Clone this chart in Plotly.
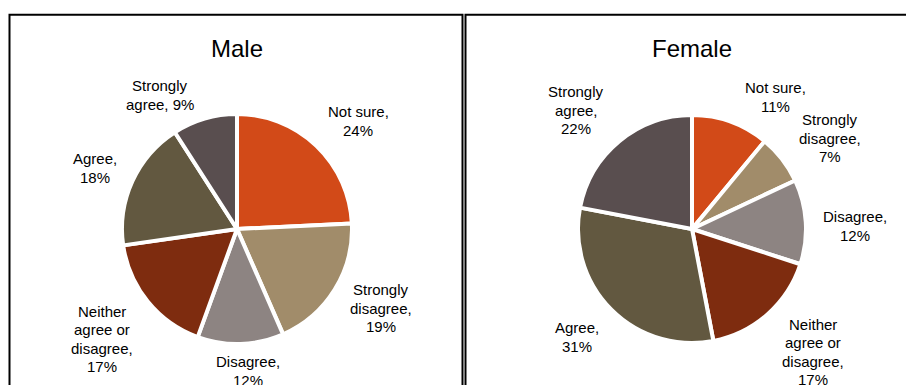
import plotly.graph_objects as go

W, H = 906, 385

# Response categories in clockwise order from 12 o'clock
categories = ["Not sure", "Strongly disagree", "Disagree",
              "Neither agree or disagree", "Agree", "Strongly agree"]
male_values = [24, 19, 12, 17, 18, 9]
female_values = [11, 7, 12, 17, 31, 22]

colors = ["#D24A18", "#A18C6A", "#8D8482", "#7E2C0F", "#625840", "#594E4F"]

# Label wording (line breaks differ per panel); {v} is filled with the value
male_label_fmt = ["Not sure,<br>{v}%", "Strongly<br>disagree,<br>{v}%", "Disagree,<br>{v}%",
                  "Neither<br>agree or<br>disagree,<br>{v}%", "Agree,<br>{v}%",
                  "Strongly<br>agree, {v}%"]
female_label_fmt = ["Not sure,<br>{v}%", "Strongly<br>disagree,<br>{v}%", "Disagree,<br>{v}%",
                    "Neither<br>agree or<br>disagree,<br>{v}%", "Agree,<br>{v}%",
                    "Strongly<br>agree,<br>{v}%"]

# Label anchor points (pixels) around each pie
male_label_px = [(358, 121), (381, 308), (248, 371), (102, 339), (95, 168), (160, 95)]
female_label_px = [(775, 97), (830, 138), (855, 226), (813, 352), (577, 337), (576, 110)]

FONT = "Liberation Sans, Arial, sans-serif"
BORDER = 4          # white separator width between slices
LINE_GAP = 18.3     # pixel spacing between label lines


def px_x(x):
    return x / W


def px_y(y):
    return 1 - y / H


def pie_domain(cx, cy, r):
    r = r + BORDER / 2
    return dict(x=[px_x(cx - r), px_x(cx + r)], y=[px_y(cy + r), px_y(cy - r)])


fig = go.Figure()

panels = [
    ("Male", male_values, male_label_fmt, male_label_px, (237, 229, 113)),
    ("Female", female_values, female_label_fmt, female_label_px, (692, 229, 112)),
]

annotations = []
for title, values, fmts, label_px, (cx, cy, r) in panels:
    fig.add_trace(go.Pie(
        labels=categories,
        values=values,
        sort=False,
        direction="clockwise",
        rotation=0,
        textinfo="none",
        hoverinfo="label+percent",
        marker=dict(colors=colors, line=dict(color="white", width=BORDER)),
        domain=pie_domain(cx, cy, r),
        showlegend=False,
    ))
    annotations.append(dict(
        text=title, x=px_x(cx), y=px_y(48), xref="paper", yref="paper",
        showarrow=False, xanchor="center", yanchor="middle",
        font=dict(family=FONT, size=24, color="black"),
    ))
    for fmt, v, (lx, ly) in zip(fmts, values, label_px):
        lines = fmt.format(v=v).split("<br>")
        n = len(lines)
        for i, line in enumerate(lines):
            y_line = ly + (i - (n - 1) / 2) * LINE_GAP
            annotations.append(dict(
                text=line, x=px_x(lx), y=px_y(y_line), xref="paper", yref="paper",
                showarrow=False, xanchor="center", yanchor="middle", align="center",
                font=dict(family=FONT, size=15, color="black"),
            ))

# Panel frames
shapes = [
    dict(type="rect", xref="paper", yref="paper",
         x0=px_x(9.5), x1=px_x(462.5), y0=px_y(400), y1=px_y(14.8),
         line=dict(color="black", width=2)),
    dict(type="rect", xref="paper", yref="paper",
         x0=px_x(465.5), x1=px_x(920), y0=px_y(400), y1=px_y(14.8),
         line=dict(color="black", width=2)),
]

fig.update_layout(
    width=W, height=H,
    margin=dict(l=0, r=0, t=0, b=0),
    paper_bgcolor="white", plot_bgcolor="white",
    annotations=annotations, shapes=shapes,
    font=dict(family=FONT),
)

fig.write_html("out.html")
